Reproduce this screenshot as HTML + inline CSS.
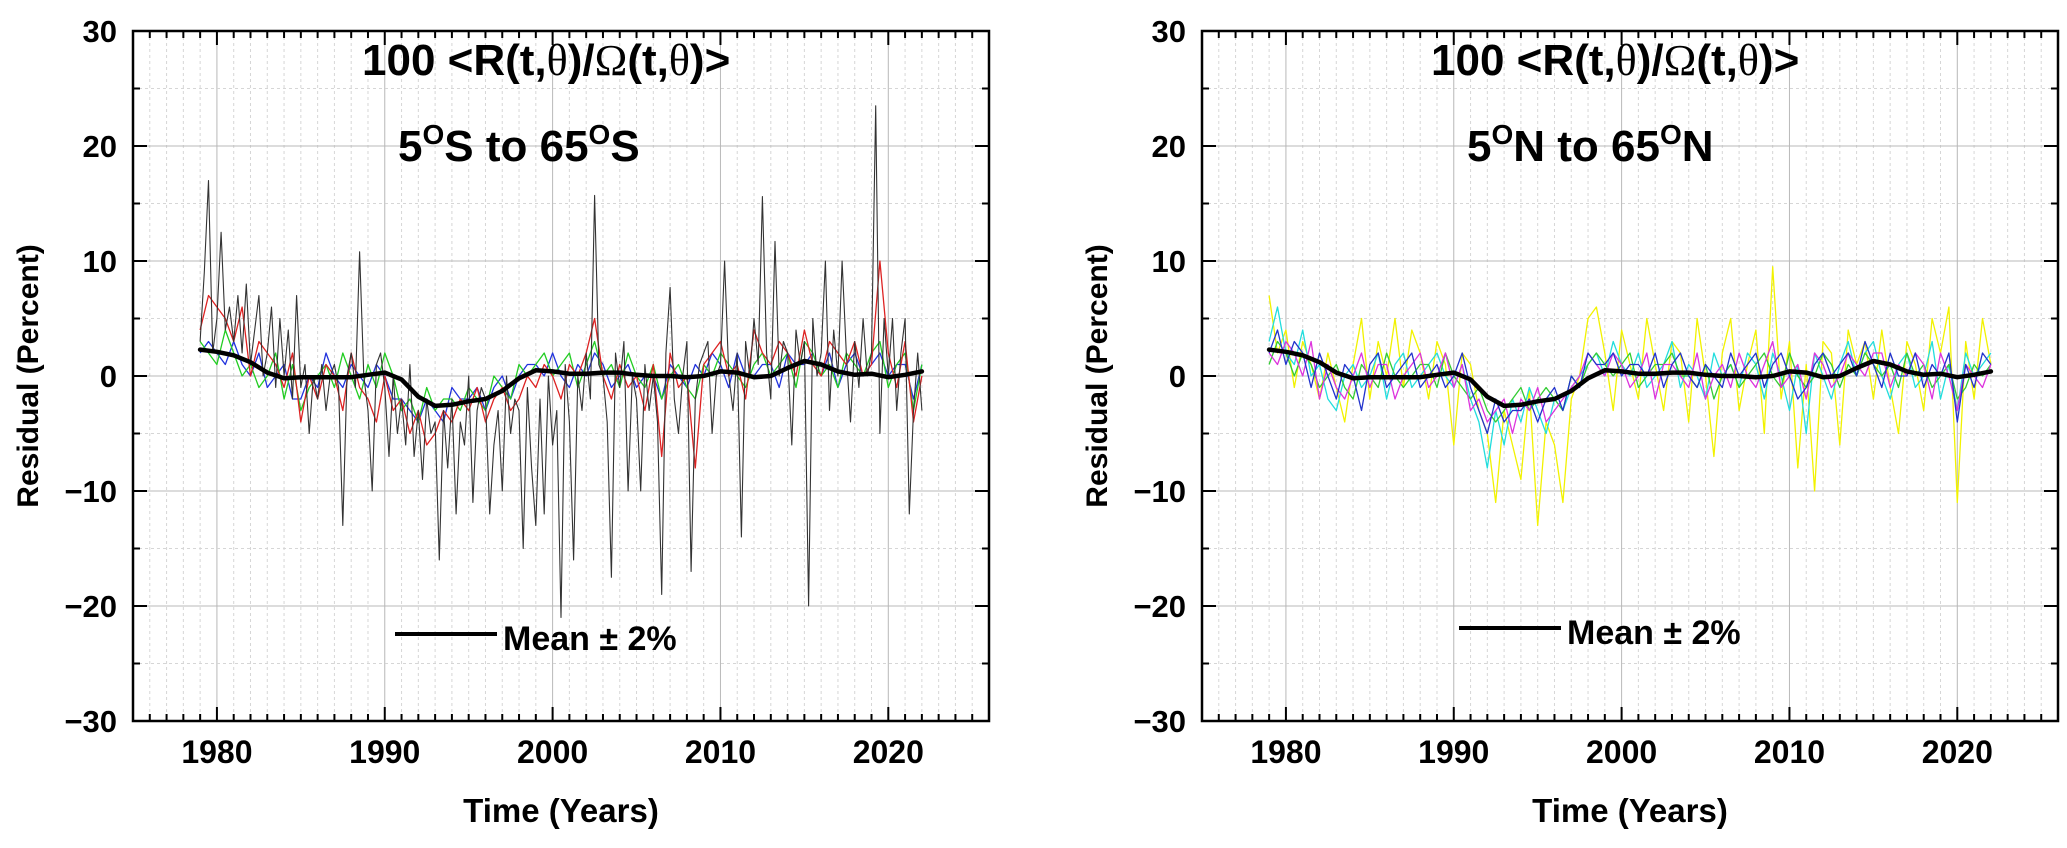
<!DOCTYPE html>
<html><head><meta charset="utf-8">
<style>
html,body{margin:0;padding:0;background:#fff;}
svg{display:block;font-family:"Liberation Sans",Arial,sans-serif;font-weight:bold;}
</style></head>
<body>
<svg id="chart" width="2067" height="848" viewBox="0 0 2067 848" xmlns="http://www.w3.org/2000/svg"></svg>
<script>
const meanYears=[1979,1980,1981,1982,1983,1984,1985,1986,1987,1988,1989,1990,1991,1992,1993,1994,1995,1996,1997,1998,1999,2000,2001,2002,2003,2004,2005,2006,2007,2008,2009,2010,2011,2012,2013,2014,2015,2016,2017,2018,2019,2020,2021,2022];
const meanVals=[2.3,2.1,1.8,1.2,0.3,-0.2,-0.1,-0.1,-0.1,-0.1,0.1,0.3,-0.3,-1.8,-2.6,-2.5,-2.2,-2.0,-1.3,-0.2,0.5,0.4,0.2,0.2,0.3,0.3,0.1,0,0,-0.1,0,0.4,0.3,-0.1,0,0.7,1.3,1.0,0.4,0.1,0.2,-0.1,0.1,0.4];
const yTicks=[-30,-20,-10,0,10,20,30];
const xTicks=[1980,1990,2000,2010,2020];
// quarterly (start 1979.0, step 0.25)
const southBlack=[3,9,17,2, 5,12.5,4,6, 3,7,2,8, 1,4,7,0, 2,6,-1,5, 0,4,-2,7, -1,1,-5,0, -2,1,-3,0, 1,-1,-13,0, 2,-1,10.8,0, -3,-10,1,2, -1,-7,0,-5, -2,-6,1,-7, -3,-9,-2,-5, -4,-16,-3,-8, -2,-12,-4,-6, 0,-11,-3,-1, -2,-12,-6,-3, -10,0,-5,-2, -3,-15,-1,-8, -13,-2,-12,0, -6,-3,-21,1, -4,-16,0,-3, 2,-2,15.7,1, 0,-4,-17.5,2, -1,3,-10,0, -2,-10,1,-3, 0,-4,-19,2, 7.7,-2,-5,0, 3,-17,-2,1, 2,3,-5,0, 1,10,0,-3, 2,-14,3,0, 5,1,15.6,2, -2,11.7,0,3, 2,-6,4,1, 3,-20,5,0, 2,10,-3,4, 0,10,2,-4, 3,-1,5,0, 2,23.5,-5,5, 0,5,-3,2, 5,-12,-3,2, -3];
// half-yearly (start 1979.0, step 0.5)
const southRed=[4,7,6,5,3,6,0,3,2,1,-1,2,-4,0,-2,1,0,-3,2,-1,-2,-4,0,-3,-2,-5,-3,-6,-5,-3,-4,-2,-3,-1,-4,-2,-1,-3,-2,0,-1,1,0,-2,1,0,2,5,0,-2,1,-1,0,-3,1,-7,2,-1,0,-8,1,2,3,0,1,-2,4,2,1,3,2,0,4,1,0,3,2,1,3,0,1,10,2,-1,3,-4,0];
const southGreen=[3,2,1,4,2,0,1,-1,0,2,-2,1,-3,-1,0,1,-1,2,0,-2,1,-1,2,0,-3,-2,-4,-1,-3,-2,-2,-3,-1,-2,-3,0,-1,-2,1,0,1,2,0,1,2,-1,1,3,0,1,-1,2,0,-1,1,-2,0,1,-1,-2,1,0,2,1,0,-1,1,2,0,1,2,-1,3,2,0,1,-1,2,1,0,2,3,-1,1,2,-3,1];
const southBlue=[2,3,2,1,3,1,0,2,-1,0,1,-2,-2,0,-1,2,0,-1,1,0,-1,1,0,-2,-2,-3,-4,-2,-3,-4,-1,-2,-2,-1,-3,-1,0,-2,0,1,1,0,2,0,-1,1,0,2,1,-1,0,1,-1,0,0,-2,1,0,-1,1,0,2,1,-1,2,0,0,1,1,-1,2,1,1,2,0,2,-1,1,2,0,1,2,0,1,1,-2,1];
const northYellow=[7,2,4,-1,3,1,-2,2,-1,-4,1,5,-2,3,0,5,-1,4,2,-2,3,1,-6,2,1,-3,-5,-11,-3,-6,-9,-1,-13,-4,-6,-11,-2,0,5,6,2,-3,4,1,-2,5,1,-3,3,2,-4,5,0,-7,2,5,-3,1,4,-5,9.5,-2,3,-8,1,-10,3,2,-6,4,1,3,-2,4,-1,-5,3,1,-3,5,2,6,-11,3,-2,5,1];
const northCyan=[3,6,2,1,4,0,1,-2,-3,0,1,-1,0,2,-2,1,2,-1,0,1,2,0,-1,1,-2,-4,-8,-3,-6,-2,-4,-1,-3,-5,-2,-3,-1,0,1,2,0,3,1,0,2,-1,0,1,3,-1,1,0,-2,2,0,1,-1,2,1,-2,2,0,-3,1,-5,2,0,-2,1,3,0,2,3,0,-2,1,2,-1,0,3,-2,1,-3,2,0,1,2];
const northBlue=[2,4,1,3,2,-1,2,0,-2,1,0,-3,1,2,-1,0,1,2,-1,0,1,-1,0,2,-1,-3,-5,-2,-4,-3,-3,-2,-4,-2,-1,-3,0,-1,2,1,1,2,0,1,1,0,2,-1,1,2,0,-1,1,0,-1,2,0,1,2,-1,1,2,0,-2,-1,1,2,0,1,2,0,3,1,-1,2,0,0,2,-1,1,0,2,-4,1,-1,2,1];
const northMagenta=[2,1,3,2,0,3,-2,1,-1,-2,0,2,-1,1,1,-2,0,1,2,-1,0,2,-1,1,-3,-2,-4,-3,-2,-5,-2,-3,-1,-4,-3,-2,-1,0,2,1,0,2,1,-1,0,2,-2,1,1,0,-1,2,-2,0,1,-1,2,0,-1,1,3,-1,0,1,-2,2,1,-1,0,2,1,0,2,2,-1,1,0,2,1,-2,2,0,-3,1,0,-1,1];
const northGreen=[1,3,2,0,2,1,-1,0,1,-1,-2,1,0,-1,2,0,-1,0,1,1,-1,2,0,-1,-2,-1,-3,-4,-3,-2,-1,-3,-2,-1,-2,-3,0,-1,1,2,1,0,1,2,-1,0,1,1,2,0,0,-1,1,-2,0,1,-1,0,1,2,0,-1,2,0,-1,0,2,1,-1,1,0,2,1,0,1,-1,2,0,1,-1,0,1,-2,-1,1,0,1];

const svg=document.getElementById('chart');
const NS='http://www.w3.org/2000/svg';
function mk(tag,attrs,parent){const e=document.createElementNS(NS,tag);for(const k in attrs)e.setAttribute(k,attrs[k]);(parent||svg).appendChild(e);return e;}
const X0=1975,X1=2026,Y0=-30,Y1=30;
function makePanel(left,title2Parts,seriesList,blackSeries,legendX,legendY,name){
  const W=856,top=31,bot=721;
  const xs=y=>left+(y-X0)/(X1-X0)*W;
  const ys=v=>bot-(v-Y0)/(Y1-Y0)*(bot-top);
  const g=mk('g',{});
  
  
  for(let yr=1976;yr<=2025;yr++){
    const l=mk('line',{x1:xs(yr),x2:xs(yr),y1:top,y2:bot,stroke:yr%10===0?'#b8b8b8':'#d6d6d6','stroke-width':1,'stroke-dasharray':yr%10===0?'none':'3,3'},g);
    
    
  }
  for(let v=-25;v<=25;v+=5){
    const l=mk('line',{x1:left,x2:left+W,y1:ys(v),y2:ys(v),stroke:v%10===0?'#b8b8b8':'#d6d6d6','stroke-width':1,'stroke-dasharray':v%10===0?'none':'3,3'},g);
    
    
  }
  seriesList.forEach(s=>{
    const pts=s.vals.map((v,i)=>xs(1979+i*s.step).toFixed(1)+','+ys(v).toFixed(1)).join(' ');
    const p=mk('polyline',{points:pts,fill:'none',stroke:s.color,'stroke-width':1.3,'stroke-linejoin':'round'},g);
    
    
  });
  if(blackSeries){
    const pts=blackSeries.map((v,i)=>xs(1979+i*0.25).toFixed(1)+','+ys(v).toFixed(1)).join(' ');
    const p=mk('polyline',{points:pts,fill:'none',stroke:'#333','stroke-width':1.1,'stroke-linejoin':'round'},g);
    
    
  }
  const mp=meanYears.map((yr,i)=>xs(yr).toFixed(1)+','+ys(meanVals[i]).toFixed(1)).join(' ');
  const m=mk('polyline',{points:mp,fill:'none',stroke:'#000','stroke-width':4.5,'stroke-linejoin':'round','stroke-linecap':'round'},g);
  
  
  const f=mk('rect',{x:left,y:top,width:W,height:bot-top,fill:'none',stroke:'#000','stroke-width':2.5},g);
  
  
  for(let yr=1976;yr<=2025;yr++){
    const len=yr%10===0?14:7;
    [[bot,bot-len],[top,top+len]].forEach(([a,b])=>{
      const t=mk('line',{x1:xs(yr),x2:xs(yr),y1:a,y2:b,stroke:'#000','stroke-width':2},g);
      
      
    });
  }
  xTicks.forEach(yr=>{
    const t=mk('text',{x:xs(yr),y:763,'font-size':32,'text-anchor':'middle'},g);
    t.textContent=yr;
    
    
  });
  for(let v=-25;v<=25;v+=5){
    const len=v%10===0?14:7;
    [[left,left+len],[left+W,left+W-len]].forEach(([a,b])=>{
      const t=mk('line',{x1:a,x2:b,y1:ys(v),y2:ys(v),stroke:'#000','stroke-width':2},g);
      
      
    });
  }
  yTicks.forEach(v=>{
    const t=mk('text',{x:left-16,y:ys(v)+11,'font-size':31,'text-anchor':'end'},g);
    t.textContent=v<0?'\u2212'+(-v):String(v);
    
    
  });
  const xt=mk('text',{x:left+W/2,y:822,'font-size':33,'text-anchor':'middle'},g);
  xt.textContent='Time (Years)';
  
  
  const yt=mk('text',{x:0,y:0,'font-size':30,'text-anchor':'middle',transform:`translate(${left-95},376) rotate(-90)`},g);
  yt.textContent='Residual (Percent)';
  
  
  const t1=mk('text',{x:left+229,y:75,'font-size':44},g);
  t1.innerHTML='100 &lt;R(t,<tspan font-family="Liberation Serif" font-weight="normal">θ</tspan>)/<tspan font-family="Liberation Serif" font-weight="normal">Ω</tspan>(t,<tspan font-family="Liberation Serif" font-weight="normal">θ</tspan>)&gt;';
  
  
  const t2=mk('text',{x:left+265,y:161,'font-size':44},g);
  t2.innerHTML=`5<tspan font-size="28" dy="-17">O</tspan><tspan dy="17">${title2Parts[0]} to 65</tspan><tspan font-size="28" dy="-17">O</tspan><tspan dy="17">${title2Parts[1]}</tspan>`;
  
  
  const ll=mk('line',{x1:legendX,x2:legendX+102,y1:legendY,y2:legendY,stroke:'#000','stroke-width':4},g);
  
  
  const lt=mk('text',{x:legendX+108,y:legendY+16,'font-size':34},g);
  lt.textContent='Mean ± 2%';
  
  
}
makePanel(133,['S','S'],[
  {name:'blue-series',color:'#2233dd',vals:southBlue,step:0.5},
  {name:'green-series',color:'#22cc22',vals:southGreen,step:0.5},
  {name:'red-series',color:'#dd2222',vals:southRed,step:0.5}
],southBlack,395,634,'south-panel');
makePanel(1202,['N','N'],[
  {name:'yellow-series',color:'#f2f200',vals:northYellow,step:0.5},
  {name:'cyan-series',color:'#22dddd',vals:northCyan,step:0.5},
  {name:'green-series',color:'#33cc33',vals:northGreen,step:0.5},
  {name:'magenta-series',color:'#dd33dd',vals:northMagenta,step:0.5},
  {name:'blue-series',color:'#2233cc',vals:northBlue,step:0.5}
],null,1459,628,'north-panel');
</script>
</body></html>
